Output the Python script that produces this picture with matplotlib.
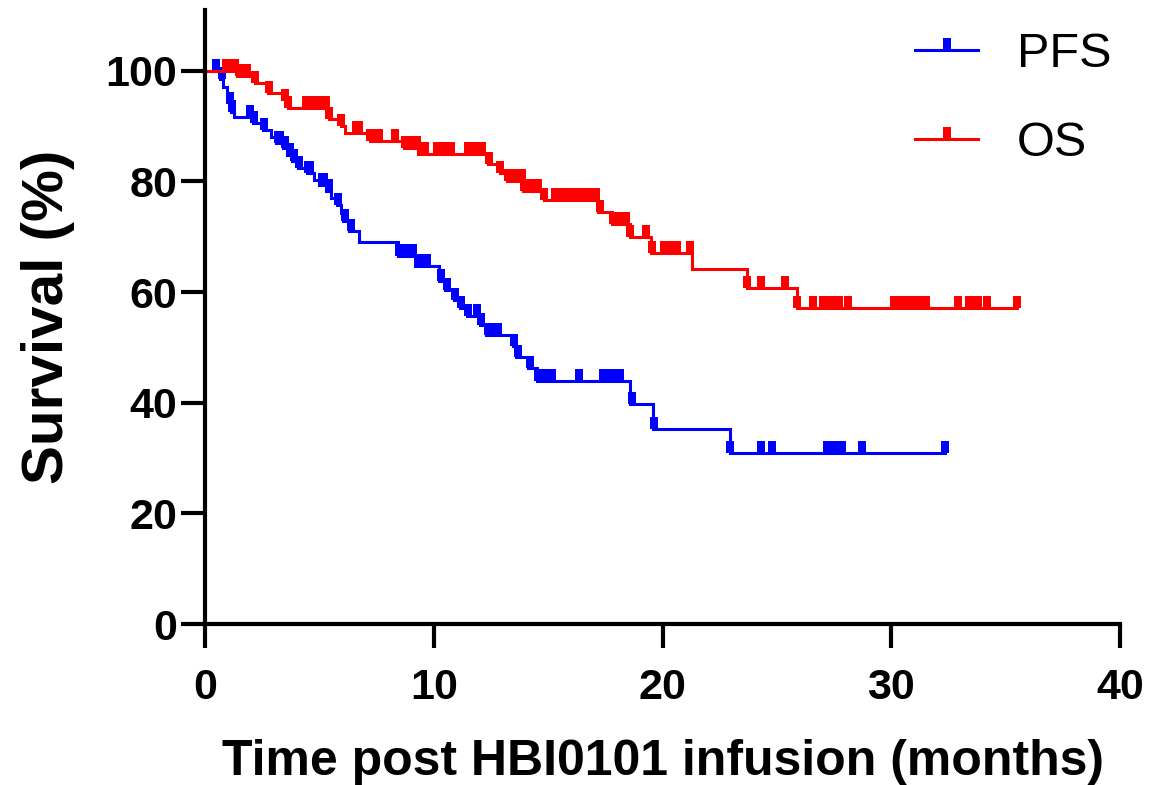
import numpy as np
import matplotlib
matplotlib.use('Agg')
import matplotlib.pyplot as plt
from matplotlib.path import Path
from matplotlib.lines import Line2D

plt.rcParams['font.family'] = ['Liberation Sans', 'DejaVu Sans']

# PFS: time of each drop (months) and survival (%) after the drop
pfs_t = [0.65, 0.8, 0.95, 1.05, 1.15, 1.25, 2.1, 2.55, 2.9, 3.1, 3.4, 3.6, 3.8, 4.05,
         4.45, 4.75, 5.0, 5.3, 5.5, 5.75, 5.95, 6.05, 6.3, 6.75, 8.45, 9.2, 10.25, 10.5,
         10.9, 11.15, 11.45, 12.0, 12.3, 13.45, 13.6, 14.1, 14.5, 18.6, 19.6, 22.95]
pfs_s = [98.5, 97.0, 95.5, 94.0, 92.5, 91.7, 90.5, 89.3, 88.0, 87.0, 86.0, 84.8, 83.7, 82.5,
         81.5, 80.3, 79.3, 78.2, 77.0, 75.8, 74.3, 72.9, 71.0, 69.0, 66.5, 64.8, 62.0, 60.3,
         58.6, 57.2, 55.6, 54.0, 52.2, 50.2, 48.2, 46.2, 44.0, 39.8, 35.3, 30.9]
pfs_end = 32.35
pfs_cens = [0.5, 0.75, 1.1, 1.2, 1.95, 2.15, 2.6, 3.2, 3.3, 3.5, 3.7, 3.9, 4.1, 4.5, 4.6,
            5.1, 5.2, 5.4, 5.8, 6.1, 6.4, 8.5, 8.7, 8.9, 9.1, 9.3, 9.5, 9.7, 10.3, 10.6,
            10.95, 11.2, 11.5, 11.9, 12.05, 12.35, 12.6, 12.8, 13.5, 13.7, 14.2, 14.55,
            14.75, 14.95, 15.15, 16.35, 17.4, 17.6, 17.8, 18.0, 18.15, 18.65, 19.65, 22.95,
            24.3, 24.8, 27.2, 27.4, 27.6, 27.85, 28.7, 32.35]

# OS
os_t = [1.4, 2.2, 2.75, 3.5, 3.65, 5.4, 5.95, 6.1, 7.2, 8.7, 9.3, 12.37, 12.9, 13.2, 13.9,
        14.8, 17.2, 17.8, 18.6, 19.5, 21.3, 23.7, 25.9]
os_s = [99.0, 97.8, 96.0, 94.6, 93.3, 91.3, 90.0, 88.8, 87.4, 86.1, 85.0, 83.2, 81.6, 80.1,
        78.3, 76.7, 74.5, 72.4, 69.9, 67.1, 64.1, 60.8, 57.2]
os_end = 35.5
os_cens = [0.9, 1.1, 1.3, 1.5, 1.85, 2.2, 2.8, 3.5, 3.65, 4.4, 4.55, 4.9, 5.1, 5.3, 5.4,
           5.95, 6.6, 6.75, 7.2, 7.4, 7.6, 8.3, 8.75, 9.0, 9.25, 9.45, 9.6, 10.15, 10.35,
           10.55, 10.75, 11.5, 11.7, 11.9, 12.1, 12.4, 12.9, 13.25, 13.45, 13.65, 13.85,
           13.95, 14.15, 14.35, 14.55, 14.8, 15.3, 15.5, 15.85, 16.05, 16.3, 16.5, 16.7,
           16.9, 17.1, 17.25, 17.85, 18.0, 18.2, 18.4, 18.6, 19.3, 19.55, 20.05, 20.25,
           20.45, 20.65, 21.2, 23.7, 24.3, 25.35, 25.9, 26.6, 27.0, 27.2, 27.4, 27.7, 28.1,
           30.1, 30.3, 30.5, 30.7, 30.9, 31.1, 31.3, 31.5, 32.9, 33.4, 33.6, 33.8, 34.2, 35.5]

# censor tick: small filled bar standing up from the line
tick = Path([(-0.3, 0), (0.3, 0), (0.3, 1), (-0.3, 1), (-0.3, 0)],
            [Path.MOVETO, Path.LINETO, Path.LINETO, Path.LINETO, Path.CLOSEPOLY])


def km_curve(ax, t, s, end, cens, color):
    xs = np.concatenate([[0], t, [end]])
    ys = np.concatenate([[100], s, [s[-1]]])
    ax.step(xs, ys, where='post', color=color, lw=2.2, solid_joinstyle='miter')
    lev = np.concatenate([[100], s])
    cy = lev[np.searchsorted(t, cens, side='right')]
    ax.plot(cens, cy, ls='none', marker=tick, markersize=18, color=color, mew=0)


fig = plt.figure(figsize=(11.52, 7.85), dpi=100)
ax = fig.add_axes([205 / 1152, 1 - 624 / 785, 915 / 1152, 614 / 785])

km_curve(ax, pfs_t, pfs_s, pfs_end, pfs_cens, '#0000ff')
km_curve(ax, os_t, os_s, os_end, os_cens, '#ff0000')

ax.set_xlim(0, 40)
ax.set_ylim(0, 111)
ax.set_xticks([0, 10, 20, 30, 40])
ax.set_yticks([0, 20, 40, 60, 80, 100])
for sp in ['top', 'right']:
    ax.spines[sp].set_visible(False)
for sp in ['left', 'bottom']:
    ax.spines[sp].set_linewidth(3)
ax.tick_params(width=3, length=17, labelsize=31)
ax.tick_params(axis='x', pad=15)
ax.tick_params(axis='y', pad=3)
for lb in ax.get_xticklabels() + ax.get_yticklabels():
    lb.set_fontweight('bold')

ax.set_xlabel('Time post HBI0101 infusion (months)', fontsize=36, fontweight='bold', labelpad=22)
ax.set_ylabel('Survival (%)', fontsize=42, fontweight='bold', labelpad=22)

handles = [Line2D([], [], color='#0000ff', lw=2.2, marker=tick, markersize=18, mew=0),
           Line2D([], [], color='#ff0000', lw=2.2, marker=tick, markersize=18, mew=0)]
fig.legend(handles, ['PFS', 'OS'], loc='upper left', bbox_to_anchor=(915 / 1152, 1 - 32 / 785),
           frameon=False, fontsize=35, handlelength=1.3, handletextpad=0.8,
           labelspacing=0.9, borderpad=0, borderaxespad=0, numpoints=1)

fig.savefig('out.png', dpi=100)
